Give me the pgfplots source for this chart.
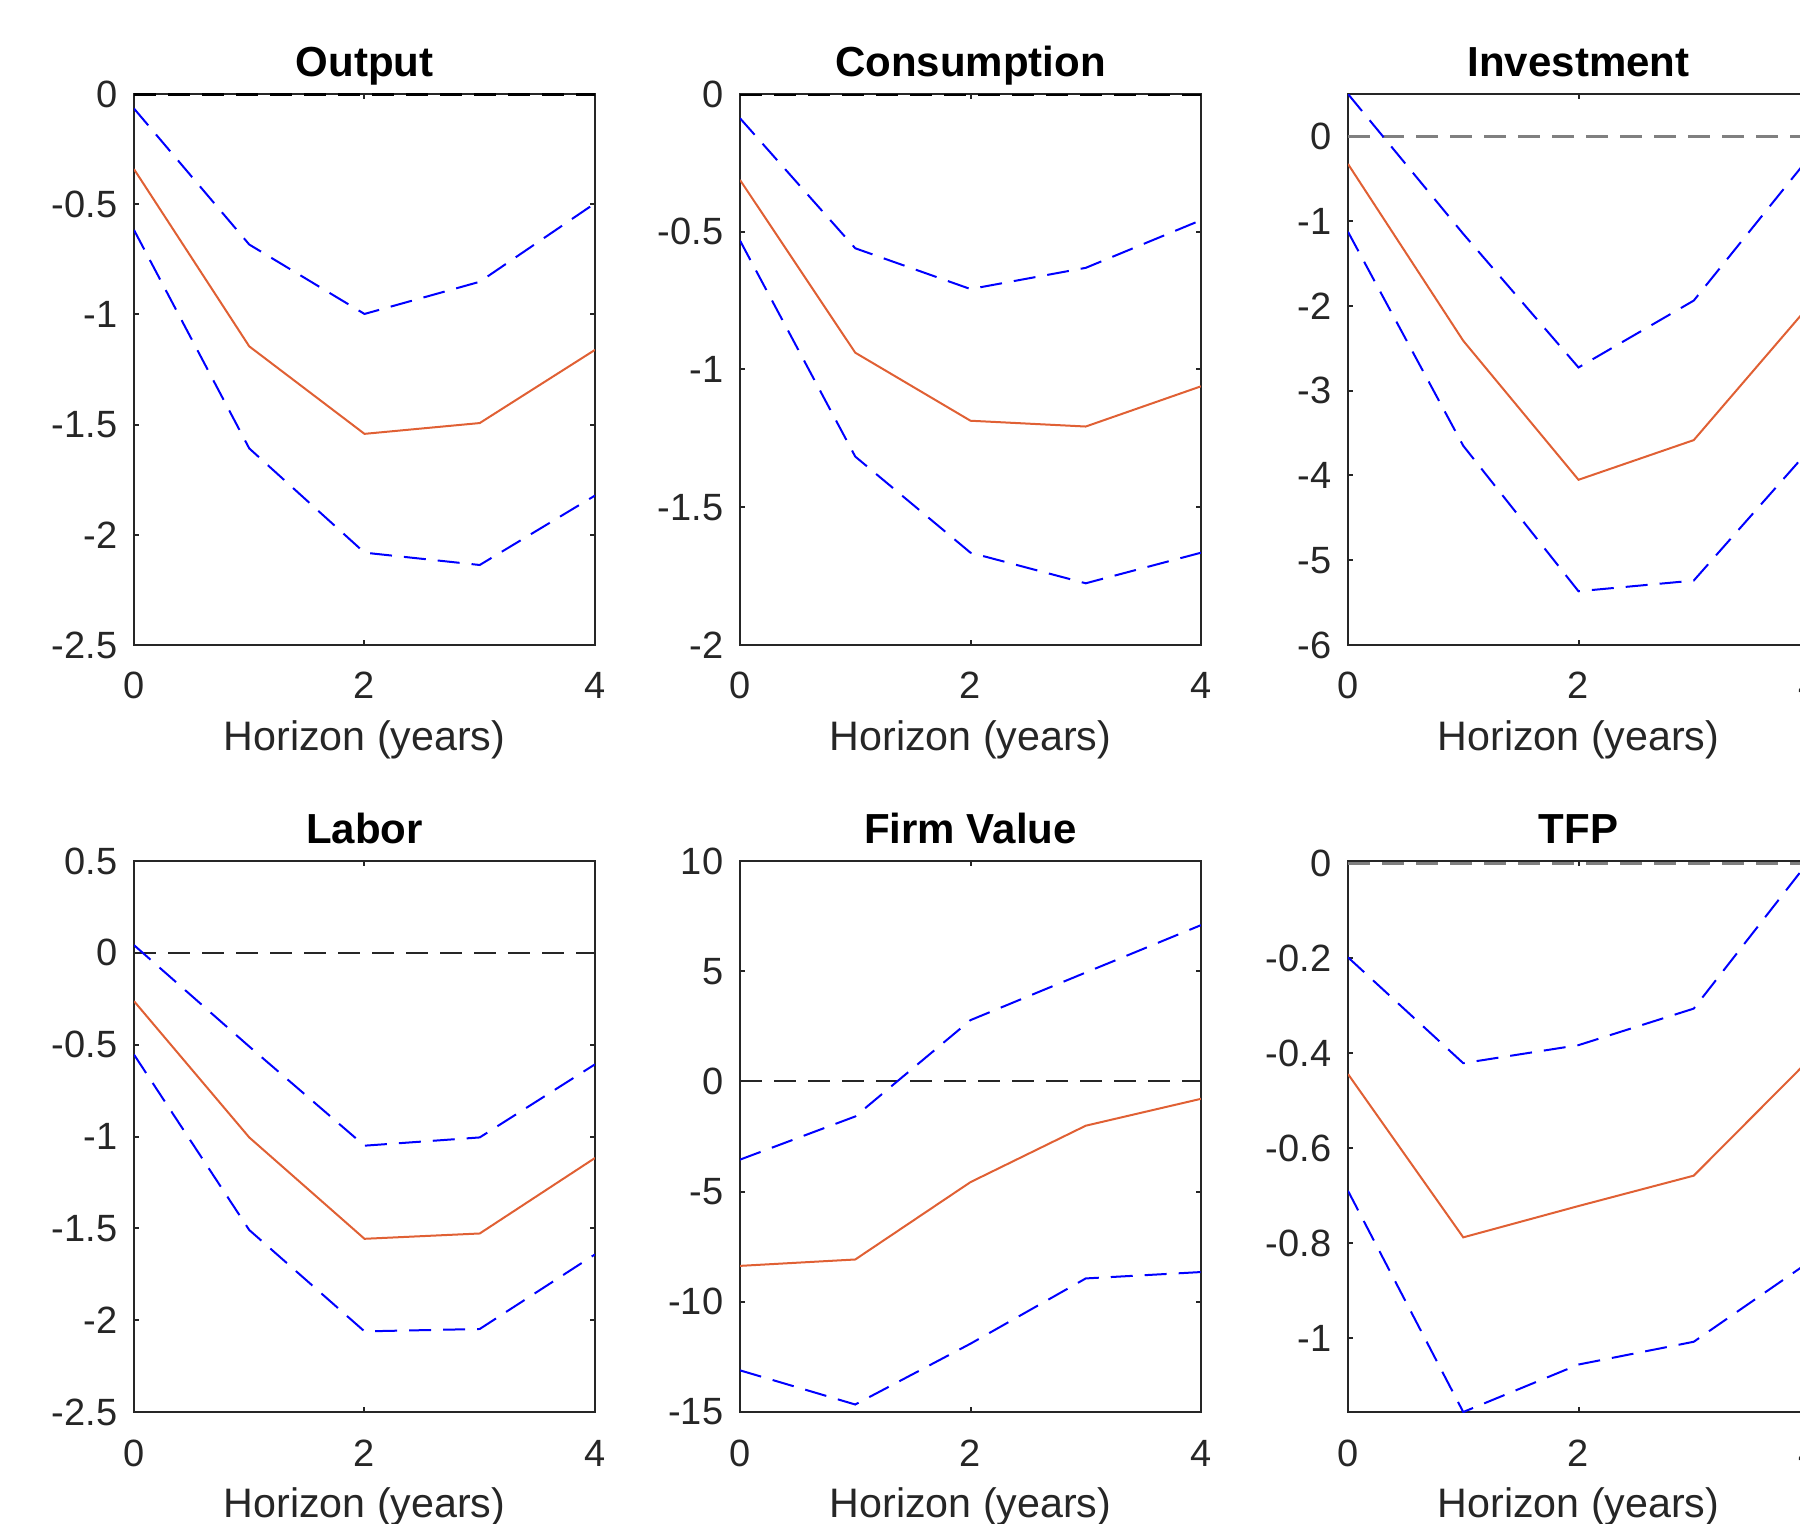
\documentclass[border=0pt]{standalone}
\usepackage{fontspec}
\setmainfont{Liberation Sans}
\usepackage{pgfplots}
\pgfplotsset{compat=1.18}
\definecolor{axgray}{RGB}{38,38,38}
\definecolor{morange}{RGB}{224,96,52}
\definecolor{mblue}{RGB}{0,0,255}
\pgfplotsset{
 irf/.style={
  scale only axis, width=115.25pt, height=137.75pt, anchor=south west,
  xmin=0, xmax=4, xtick={0,2,4},
  axis line style={axgray, line width=0.5pt},
  every tick/.style={axgray, line width=0.5pt},
  major tick length=1.3pt, tick align=inside, tick pos=both,
  /pgf/number format/assume math mode=true,
  ticklabel style={font=\fontsize{9.5}{11}\selectfont, text=axgray},
  xticklabel style={anchor=base, yshift=-13.5pt, inner sep=0pt},
  yticklabel style={anchor=east, xshift=-4pt, inner sep=0pt},
  xlabel={Horizon (years)},
  xlabel style={at={(axis description cs:0.5,0)}, anchor=base, yshift=-26.3pt, inner sep=0pt, font=\fontsize{10.3}{12}\selectfont, text=axgray},
  every axis title shift=0pt,
  title style={at={(axis description cs:0.5,1)}, anchor=base, yshift=4.4pt, inner sep=0pt, font=\fontsize{10.5}{12}\selectfont\bfseries},
 },
 zl/.style={black!85, line width=0.5pt, dash pattern=on 5.5pt off 3pt},
 zt/.style={black, line width=0.9pt, dash pattern=on 5.5pt off 3pt},
 zg/.style={black!50, line width=0.65pt, dash pattern=on 5.5pt off 3pt},
 ci/.style={mblue, line width=0.5pt, dash pattern=on 5.5pt off 3pt},
 pe/.style={morange, line width=0.5pt},
}
\begin{document}
\begin{tikzpicture}
\useasboundingbox (0,0) rectangle (450pt,380.75pt);
\clip (0,0) rectangle (450pt,380.75pt);
% Output
\begin{axis}[irf, at={(33.5pt,219.5pt)}, title={Output}, ymin=-2.5, ymax=0, ytick={-2.5,-2,-1.5,-1,-0.5,0}]
\addplot[zt] coordinates {(0,0) (4,0)};
\addplot[ci] coordinates {(0,-0.066) (1,-0.683) (2,-0.998) (3,-0.852) (4,-0.496)};
\addplot[ci] coordinates {(0,-0.617) (1,-1.608) (2,-2.081) (3,-2.137) (4,-1.822)};
\addplot[pe] coordinates {(0,-0.341) (1,-1.145) (2,-1.542) (3,-1.493) (4,-1.161)};
\end{axis}
% Consumption
\begin{axis}[irf, at={(185pt,219.5pt)}, title={Consumption}, ymin=-2, ymax=0, ytick={-2,-1.5,-1,-0.5,0}]
\addplot[zt] coordinates {(0,0) (4,0)};
\addplot[ci] coordinates {(0,-0.088) (1,-0.560) (2,-0.708) (3,-0.631) (4,-0.458)};
\addplot[ci] coordinates {(0,-0.532) (1,-1.316) (2,-1.665) (3,-1.776) (4,-1.665)};
\addplot[pe] coordinates {(0,-0.312) (1,-0.939) (2,-1.186) (3,-1.207) (4,-1.061)};
\end{axis}
% Investment
\begin{axis}[irf, at={(337pt,219.5pt)}, title={Investment}, ymin=-6, ymax=0.5, ytick={-6,-5,-4,-3,-2,-1,0}]
\addplot[zg] coordinates {(0,0) (4,0)};
\addplot[ci] coordinates {(0,0.5) (1,-1.15) (2,-2.726) (3,-1.937) (4,-0.25)};
\addplot[ci] coordinates {(0,-1.126) (1,-3.65) (2,-5.366) (3,-5.24) (4,-3.7)};
\addplot[pe] coordinates {(0,-0.326) (1,-2.411) (2,-4.051) (3,-3.583) (4,-2.0)};
\end{axis}
% Labor
\begin{axis}[irf, at={(33.5pt,27.75pt)}, title={Labor}, ymin=-2.5, ymax=0.5, ytick={-2.5,-2,-1.5,-1,-0.5,0,0.5}]
\addplot[zl] coordinates {(0,0) (4,0)};
\addplot[ci] coordinates {(0,0.042) (1,-0.51) (2,-1.050) (3,-1.005) (4,-0.607)};
\addplot[ci] coordinates {(0,-0.554) (1,-1.509) (2,-2.061) (3,-2.048) (4,-1.642)};
\addplot[pe] coordinates {(0,-0.263) (1,-1.005) (2,-1.557) (3,-1.528) (4,-1.117)};
\end{axis}
% Firm Value
\begin{axis}[irf, at={(185pt,27.75pt)}, title={Firm Value}, ymin=-15, ymax=10, ytick={-15,-10,-5,0,5,10}]
\addplot[zl] coordinates {(0,0) (4,0)};
\addplot[ci] coordinates {(0,-3.55) (1,-1.59) (2,2.78) (3,4.94) (4,7.09)};
\addplot[ci] coordinates {(0,-13.11) (1,-14.66) (2,-11.90) (3,-8.94) (4,-8.65)};
\addplot[pe] coordinates {(0,-8.37) (1,-8.08) (2,-4.57) (3,-2.01) (4,-0.79)};
\end{axis}
% TFP
\begin{axis}[irf, at={(337pt,27.75pt)}, title={TFP}, ymin=-1.156, ymax=0.005, ytick={-1,-0.8,-0.6,-0.4,-0.2,0}]
\addplot[zg] coordinates {(0,0) (4,0)};
\addplot[ci] coordinates {(0,-0.198) (1,-0.421) (2,-0.383) (3,-0.306) (4,0.005)};
\addplot[ci] coordinates {(0,-0.690) (1,-1.156) (2,-1.056) (3,-1.008) (4,-0.840)};
\addplot[pe] coordinates {(0,-0.444) (1,-0.788) (2,-0.722) (3,-0.658) (4,-0.414)};
\end{axis}
\end{tikzpicture}
\end{document}
